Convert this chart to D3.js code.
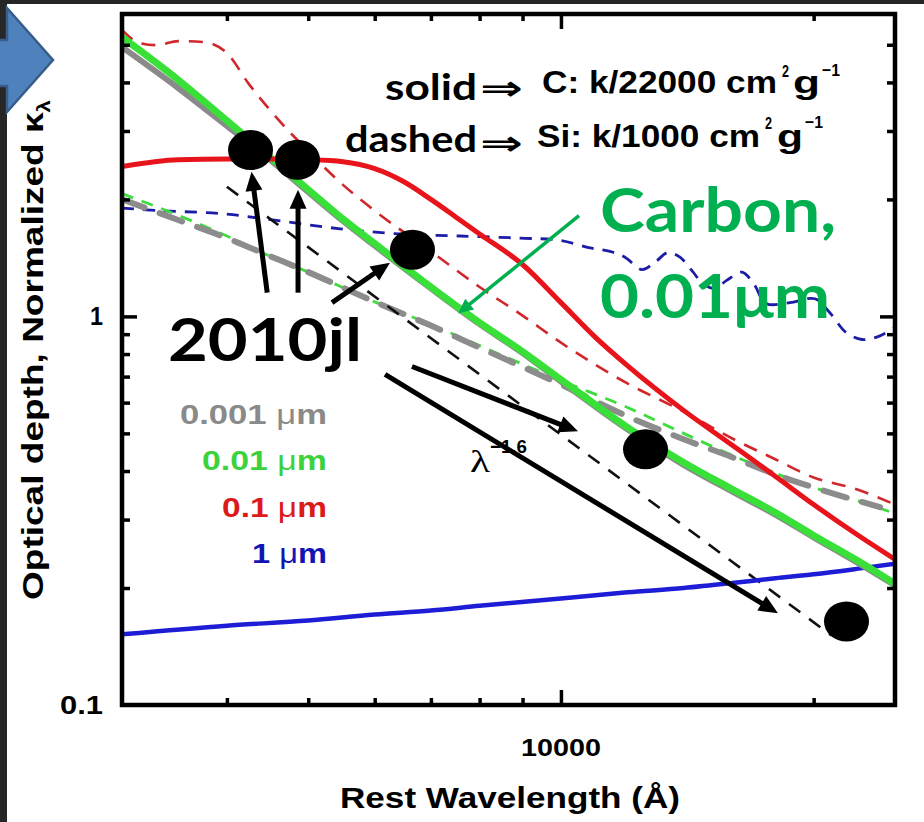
<!DOCTYPE html>
<html>
<head>
<meta charset="utf-8">
<script src="https://cdn.jsdelivr.net/npm/d3@7"></script>
<style>
  html, body { margin: 0; padding: 0; background: #fff; }
  svg { display: block; }
</style>
</head>
<body>
<svg id="chart" width="924" height="822"></svg>
<script>
// ---------- axis ticks and labels ----------
const xTickMinor = [4000, 5000, 6000, 7000, 8000, 9000, 20000];
const xTickMajor = [10000];
const yTickMinor = [0.2, 0.3, 0.4, 0.5, 0.6, 0.7, 0.8, 0.9, 2, 3, 4, 5];
const yTickMajor = [1];
const xTickLabels = ["10000"];
const yTickLabels = ["0.1", "1"];

// ---------- opacity curves: [wavelength (Å), normalized kappa] ----------
// carbon grains (solid), kappa / 22000 cm^2 g^-1
const carbon0001 = [[3000,4.93],[3500,3.87],[4000,3.09],[4500,2.53],[5000,2.09],[5500,1.76],[6000,1.52],[7000,1.18],[8000,0.955],[9000,0.805],[10000,0.68],[12000,0.512],[14000,0.415],[16000,0.354],[18000,0.309],[20000,0.27],[22500,0.233],[25000,0.203]];
const carbon001 = [[3000,5.23],[3500,4.06],[4000,3.19],[4500,2.57],[5000,2.12],[5500,1.78],[6000,1.54],[7000,1.19],[8000,0.964],[9000,0.812],[10000,0.688],[12000,0.518],[14000,0.421],[16000,0.359],[18000,0.313],[20000,0.273],[22500,0.236],[25000,0.205]];
const carbon01 = [[3000,2.43],[3500,2.53],[4000,2.54],[4500,2.54],[5000,2.53],[5500,2.50],[6000,2.40],[6500,2.22],[7000,2.00],[7500,1.80],[8000,1.63],[9000,1.36],[10000,1.085],[11000,0.882],[12000,0.747],[14000,0.573],[16000,0.466],[18000,0.388],[20000,0.328],[22500,0.275],[25000,0.237]];
const carbon1 = [[3000,0.152],[4000,0.160],[5000,0.165],[6000,0.171],[7000,0.175],[8000,0.180],[10000,0.188],[12000,0.195],[14000,0.200],[16000,0.206],[18000,0.212],[20000,0.217],[22500,0.224],[25000,0.231]];

// silicate grains (dashed), kappa / 1000 cm^2 g^-1
const silicate0001 = [[3000,2.00],[3500,1.77],[4000,1.59],[4500,1.43],[5000,1.30],[6000,1.09],[7000,0.947],[8000,0.831],[10000,0.668],[12000,0.553],[14000,0.483],[16000,0.434],[18000,0.392],[20000,0.363],[22500,0.336],[24000,0.323]];
const silicate001 = [[3000,2.07],[3500,1.82],[4000,1.61],[4500,1.43],[5000,1.30],[6000,1.09],[7000,0.953],[8000,0.841],[10000,0.684],[12000,0.583],[14000,0.500],[16000,0.439],[18000,0.395],[20000,0.363],[22500,0.336],[25000,0.311]];
const silicate01 = [[3000,5.46],[3150,5.05],[3300,4.99],[3500,5.11],[3750,5.08],[4000,4.76],[4250,3.96],[4500,3.40],[5000,2.66],[5500,2.18],[6000,1.87],[7000,1.47],[8000,1.19],[9000,1.005],[10000,0.856],[12000,0.672],[14000,0.569],[16000,0.485],[18000,0.429],[20000,0.385],[22500,0.359],[25000,0.328]];
const silicate1 = [[3000,1.90],[3330,1.87],[3925,1.84],[4630,1.76],[5460,1.68],[6430,1.63],[7580,1.61],[8940,1.59],[9970,1.57],[10830,1.50],[11440,1.47],[11920,1.42],[12490,1.32],[12950,1.38],[13410,1.46],[13860,1.42],[14330,1.31],[14730,1.22],[15220,1.18],[15770,1.24],[16430,1.30],[16980,1.21],[17550,1.08],[18740,1.085],[20070,1.11],[20920,1.02],[21860,0.909],[22840,0.872],[23860,0.887],[25000,0.936]];

// power law reference, lambda^-1.6
const powerLaw = [[4000,2.155],[21000,0.151]];

// SN 2010jl extinction estimates
const sn2010jl = [[4268,2.68],[4855,2.53],[6655,1.485],[12611,0.455],[21886,0.164]];

// annotation arrows: [tail, head] in data coordinates
const snArrows = [
  [[4468,1.151],[4280,2.355]],
  [[4862,1.151],[4862,2.117]],
  [[5337,1.085],[6257,1.375]],
  [[6646,0.743],[10479,0.506]],
  [[6172,0.709],[18136,0.1723]]
];
const carbonArrow = [[10508,1.816],[7541,1.017]];

// legend
const sizeLabels = ["0.001", "0.01", "0.1", "1"];
const sizeColors = ["#8a8a8a", "#3cd23c", "#dd1a1a", "#1414b4"];

// ---------- scales ----------
const W = 924, H = 822;
const plotLeft = 122, plotRight = 895, plotTop = 14, plotBottom = 705;
const x = d3.scaleLog().domain([3000, 25000]).range([plotLeft, plotRight]);
const y = d3.scaleLog().domain([0.1, 6]).range([plotBottom, plotTop]);

const svg = d3.select("#chart");

// slide background pieces
svg.append("rect").attr("x", 0).attr("y", 0).attr("width", W).attr("height", H).attr("fill", "#fff");
svg.append("rect").attr("x", 0).attr("y", 0).attr("width", 7).attr("height", H).attr("fill", "#262626");
svg.append("rect").attr("x", 0).attr("y", 0).attr("width", W).attr("height", 4).attr("fill", "#262626");
svg.append("polygon")
  .attr("points", "-10,40 7,40 7,8 53,60 7,112 7,86 -10,86")
  .attr("fill", "#4f81bd").attr("stroke", "#385d8a").attr("stroke-width", 2.5);

svg.append("defs").append("clipPath").attr("id", "plotClip")
  .append("rect").attr("x", plotLeft).attr("y", plotTop)
  .attr("width", plotRight - plotLeft).attr("height", plotBottom - plotTop);

const plot = svg.append("g").attr("clip-path", "url(#plotClip)");

const lineSmooth = d3.line().x(d => x(d[0])).y(d => y(d[1])).curve(d3.curveMonotoneX);
const lineWiggle = d3.line().x(d => x(d[0])).y(d => y(d[1])).curve(d3.curveCatmullRom.alpha(0.5));
const lineStraight = d3.line().x(d => x(d[0])).y(d => y(d[1]));

function drawCurve(data, gen, color, width, dash, cap) {
  plot.append("path")
    .datum(data)
    .attr("d", gen)
    .attr("fill", "none")
    .attr("stroke", color)
    .attr("stroke-width", width)
    .attr("stroke-dasharray", dash || null)
    .attr("stroke-linecap", cap || "butt")
    .attr("stroke-linejoin", "round");
}

// dashed silicate curves
drawCurve(silicate1, lineWiggle, "#1c1ca6", 2.8, "12,9");
drawCurve(silicate01, lineSmooth, "#d0282c", 2.6, "14,10");
drawCurve(silicate001, lineSmooth, "#3fdc3f", 2.8, "12,9");
drawCurve(silicate0001, lineSmooth, "#8c8c8c", 6, "24,16", "round");
drawCurve(powerLaw, lineStraight, "#111", 2.6, "14,11");

// solid carbon curves
drawCurve(carbon1, lineSmooth, "#1d1dd6", 4.5);
drawCurve(carbon0001, lineSmooth, "#8a8a8a", 6);
drawCurve(carbon001, lineSmooth, "#38e038", 7);
drawCurve(carbon01, lineSmooth, "#e8141c", 5);

// frame and ticks
svg.append("rect").attr("x", plotLeft).attr("y", plotTop)
  .attr("width", plotRight - plotLeft).attr("height", plotBottom - plotTop)
  .attr("fill", "none").attr("stroke", "#000").attr("stroke-width", 4.5);

function tickAxis(axisGen, values, size, transform) {
  const g = svg.append("g").attr("transform", transform)
    .call(axisGen.tickValues(values).tickSize(-size).tickFormat(() => ""));
  g.select(".domain").remove();
  g.selectAll(".tick line").attr("stroke", "#000").attr("stroke-width", 3.5);
}
tickAxis(d3.axisBottom(x), xTickMinor, 7, `translate(0,${plotBottom})`);
tickAxis(d3.axisBottom(x), xTickMajor, 15, `translate(0,${plotBottom})`);
tickAxis(d3.axisTop(x), xTickMinor, 7, `translate(0,${plotTop})`);
tickAxis(d3.axisTop(x), xTickMajor, 15, `translate(0,${plotTop})`);
tickAxis(d3.axisLeft(y), yTickMinor, 8, `translate(${plotLeft},0)`);
tickAxis(d3.axisLeft(y), yTickMajor, 15, `translate(${plotLeft},0)`);
tickAxis(d3.axisRight(y), yTickMinor, 8, `translate(${plotRight},0)`);
tickAxis(d3.axisRight(y), yTickMajor, 15, `translate(${plotRight},0)`);

const sans = "'Liberation Sans', Arial, Helvetica, sans-serif";
const calib = "Lato, 'Open Sans', sans-serif";

// tick labels
xTickLabels.forEach(t => {
  svg.append("text").attr("x", x(+t)).attr("y", 756).attr("text-anchor", "middle")
    .attr("font-family", sans).attr("font-weight", 700).attr("font-size", 24)
    .attr("textLength", 80).attr("lengthAdjust", "spacingAndGlyphs").text(t);
});
yTickLabels.forEach(t => {
  svg.append("text").attr("x", 103).attr("y", y(+t) + 9).attr("text-anchor", "end")
    .attr("font-family", sans).attr("font-weight", 700).attr("font-size", 26)
    .attr("textLength", t === "1" ? 13 : 43).attr("lengthAdjust", "spacingAndGlyphs").text(t);
});

// axis titles
svg.append("text").attr("x", 510).attr("y", 808).attr("text-anchor", "middle")
  .attr("font-family", sans).attr("font-weight", 700).attr("font-size", 29)
  .attr("textLength", 340).attr("lengthAdjust", "spacingAndGlyphs")
  .text("Rest Wavelength (Å)");

const yTitle = svg.append("text").attr("transform", "translate(43,600) rotate(-90)")
  .attr("font-family", sans).attr("font-weight", 700).attr("font-size", 30)
  .attr("textLength", 500).attr("lengthAdjust", "spacingAndGlyphs");
yTitle.append("tspan").text("Optical depth, Normalized κ");
yTitle.append("tspan").attr("font-size", 18).attr("dy", 7).text("λ");

// legend of grain sizes
const legendBaselines = [424, 470, 517, 563];
const legendWidths = [147, 125, 105, 75];
sizeLabels.forEach((s, i) => {
  const t = svg.append("text").attr("x", 327).attr("y", legendBaselines[i]).attr("text-anchor", "end")
    .attr("font-family", sans).attr("font-weight", 700).attr("font-size", 28)
    .attr("fill", sizeColors[i])
    .attr("textLength", legendWidths[i]).attr("lengthAdjust", "spacingAndGlyphs");
  t.append("tspan").text(s + " ");
  t.append("tspan").attr("font-weight", 400).text("μ");
  t.append("tspan").text("m");
});

// composition key
function txt(str, xx, yy, size, family, weight, len, fill) {
  const t = svg.append("text").attr("x", xx).attr("y", yy)
    .attr("font-family", family).attr("font-weight", weight).attr("font-size", size)
    .attr("fill", fill || "#000").text(str);
  if (len) t.attr("textLength", len).attr("lengthAdjust", "spacingAndGlyphs");
  return t;
}
txt("solid", 385, 100, 37, calib, 700, 92);
txt("⇒", 480, 100, 34, "'DejaVu Sans'", 700, 43);
txt("C: k/22000 cm", 542, 93, 31, sans, 700, 235);
txt("2", 782, 77, 17, sans, 700, 7);
txt("g", 793, 93, 31, sans, 700, 27);
txt("−1", 822, 76, 17, sans, 700, 18);

txt("dashed", 345, 152, 37, calib, 700, 132);
txt("⇒", 480, 155, 34, "'DejaVu Sans'", 700, 43);
txt("Si: k/1000 cm", 537, 147, 31, sans, 700, 223);
txt("2", 765, 129, 17, sans, 700, 7);
txt("g", 777, 147, 31, sans, 700, 26);
txt("−1", 805, 128, 17, sans, 700, 18);

// power-law label
txt("λ", 470, 472, 32, "'Liberation Serif', 'DejaVu Serif', serif", 400, 20);
txt("−1.6", 490, 453, 19, sans, 700, 37);

// SN 2010jl points
plot.selectAll("ellipse.sn").data(sn2010jl).enter().append("ellipse")
  .attr("class", "sn")
  .attr("cx", d => x(d[0])).attr("cy", d => y(d[1]))
  .attr("rx", 22.5).attr("ry", 20).attr("fill", "#000");

// annotation arrows
function arrow(tail, head, color, width, headLen, headHalf) {
  const x1 = x(tail[0]), y1 = y(tail[1]), x2 = x(head[0]), y2 = y(head[1]);
  const dx = x2 - x1, dy = y2 - y1, L = Math.hypot(dx, dy);
  const ux = dx / L, uy = dy / L;
  const bx = x2 - ux * headLen, by = y2 - uy * headLen;
  svg.append("line").attr("x1", x1).attr("y1", y1).attr("x2", bx + ux * 2).attr("y2", by + uy * 2)
    .attr("stroke", color).attr("stroke-width", width);
  svg.append("polygon")
    .attr("points", [[x2, y2], [bx - uy * headHalf, by + ux * headHalf], [bx + uy * headHalf, by - ux * headHalf]].map(p => p.join(",")).join(" "))
    .attr("fill", color);
}
snArrows.forEach(a => arrow(a[0], a[1], "#000", 5, 19, 8.5));
arrow(carbonArrow[0], carbonArrow[1], "#00b050", 3.5, 15, 7);

// annotation texts
txt("2010jl", 168, 361, 60, calib, 700, 194);
txt("Carbon,", 600, 232, 62, calib, 700, 236, "#00b050");
txt("0.01μm", 600, 318, 62, calib, 700, 230, "#00b050");
</script>
</body>
</html>
